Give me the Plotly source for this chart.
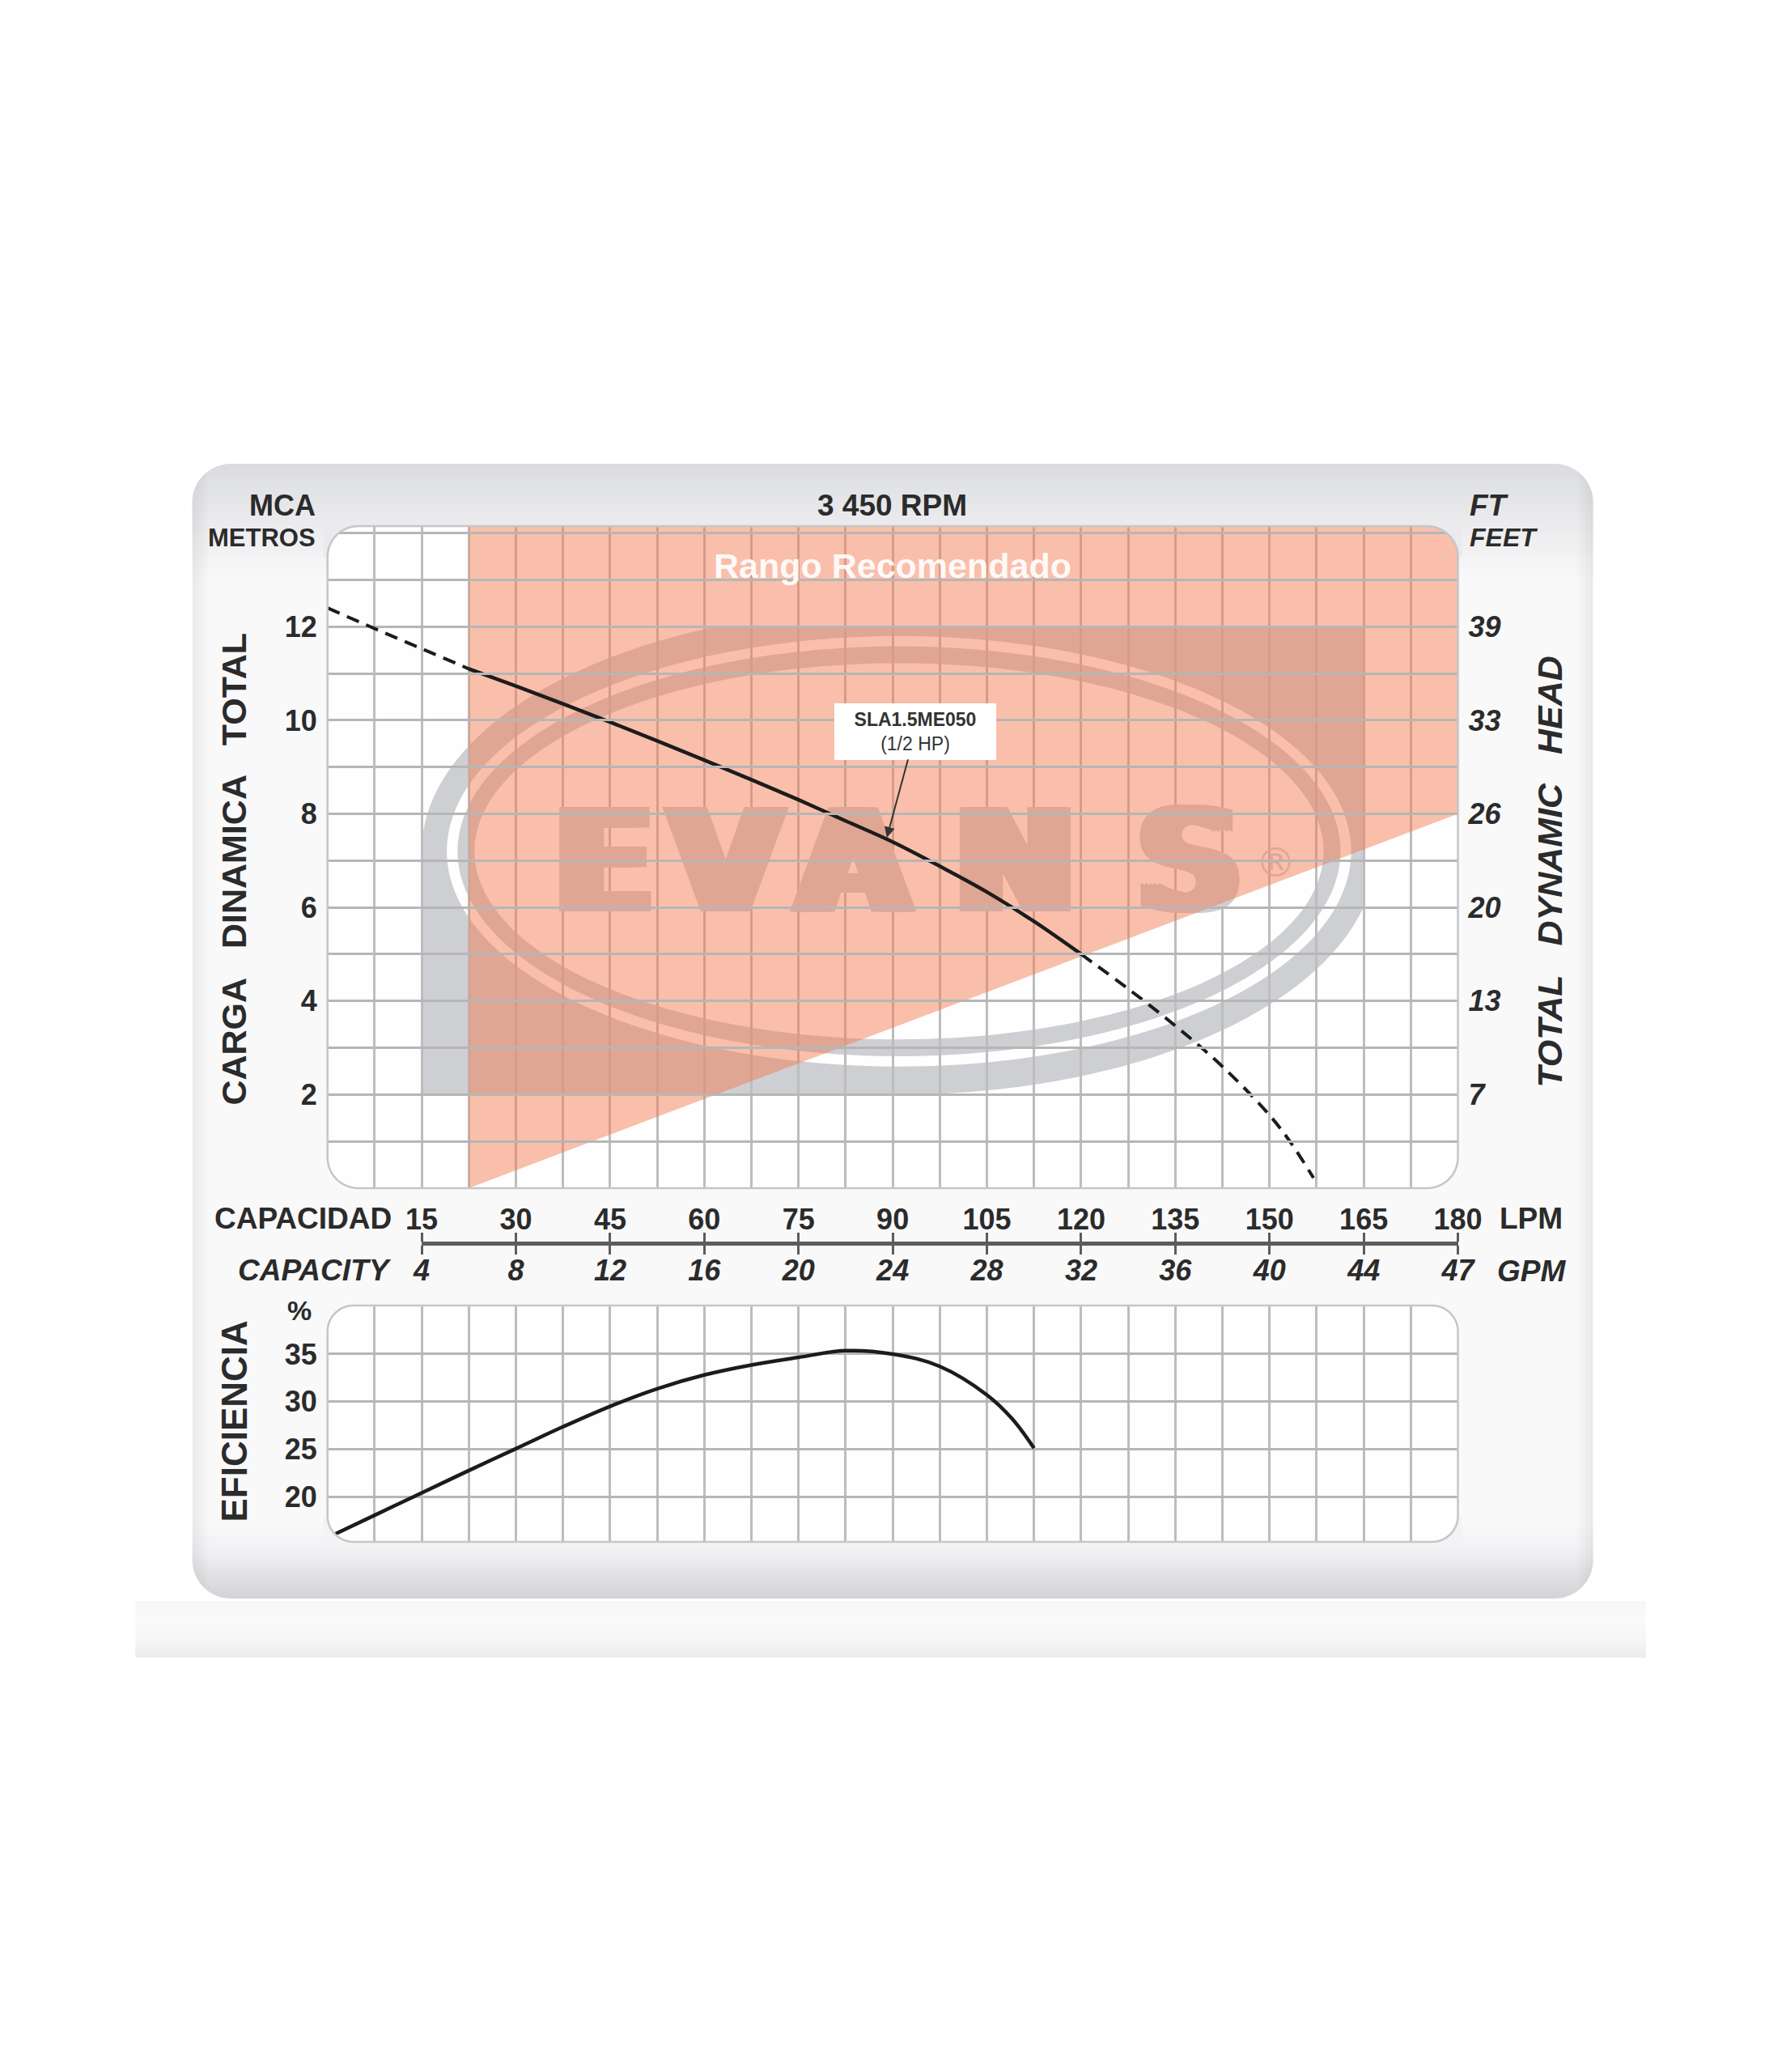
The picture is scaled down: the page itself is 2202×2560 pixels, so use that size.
import numpy as np
import plotly.graph_objects as go

# ---------------- chart data ----------------
head_lpm = [0, 7.5, 15, 22.5, 30, 37.5, 45, 52.5, 60, 67.5, 75, 82.5, 90, 97.5,
            105, 112.5, 120, 127.5, 135, 142.5, 150, 153.5, 157]
head_m = [12.4, 11.96, 11.53, 11.1, 10.73, 10.35, 9.96, 9.56, 9.15, 8.73, 8.3, 7.85,
          7.4, 6.88, 6.33, 5.7, 5.0, 4.26, 3.47, 2.6, 1.56, 0.95, 0.22]
solid_lpm_min = 22.5
solid_lpm_max = 120

eff_lpm = [1.3, 7.5, 15, 22.5, 30, 37.5, 45, 52.5, 60, 67.5, 75, 82.5, 90,
           97.5, 105, 109, 112.5]
eff_pct = [16.1, 18.05, 20.4, 22.75, 25.05, 27.35, 29.5, 31.35, 32.8, 33.85, 34.65,
           35.35, 35.0, 33.7, 30.7, 28.2, 25.1]

Y_TOP = 14.15
rec_lpm = [22.5, 180, 180, 22.5]
rec_m = [0, 8, Y_TOP, Y_TOP]

head_ticks_m = [2, 4, 6, 8, 10, 12]
head_ticks_ft = ["7", "13", "20", "26", "33", "39"]
lpm_ticks = [15, 30, 45, 60, 75, 90, 105, 120, 135, 150, 165, 180]
gpm_labels = ["4", "8", "12", "16", "20", "24", "28", "32", "36", "40", "44", "47"]
eff_ticks = [20, 25, 30, 35]

model_label = "SLA1.5ME050"
model_hp = "(1/2 HP)"
model_label_lpm = 89

logo_letters = ["E", "V", "A", "N", "S"]
logo_letter_lpm = [44, 63.4, 83.7, 109.5, 137.3]

X_RANGE = [0, 180]
Y_RANGE = [0, Y_TOP]
E_RANGE = [15.25, 40.1]

# ---------------- geometry / style ----------------
W, H = 2202, 2560
SX, OX, OY = 0.976, 28.8, 8.0      # page placement correction (measured)
PX_L, PX_R = 405, 1800
TOP_T, TOP_B = 650, 1468
BOT_T, BOT_B = 1613, 1905
AXIS_Y = 1536
FONT = "Liberation Sans, Arial, Helvetica, sans-serif"
TXT = "#2b2b2b"
GRID_V = "#bdbdbd"
GRID_H = "#b6b6b6"
LOGO_GRAY = "rgb(206,207,210)"
RED = "rgba(244,115,70,0.45)"


def fx(x):
    return ((x - OX) / SX) / W


def fy(y):
    return 1 - (y - OY) / H


def ppath(pts):
    return "M " + " L ".join(f"{fx(x):.5f},{fy(y):.5f}" for x, y in pts) + " Z"


def dsub(pts):
    return "M " + " L ".join(f"{x:.4f},{y:.4f}" for x, y in pts) + " Z"


def rr_points(L, T, R, B, r, n=14):
    pts = []
    for cx, cy, a0 in [(R - r, T + r, -90), (R - r, B - r, 0), (L + r, B - r, 90), (L + r, T + r, 180)]:
        for k in range(n + 1):
            a = np.radians(a0 + 90 * k / n)
            pts.append((cx + r * np.cos(a), cy + r * np.sin(a)))
    return pts


def rr_off(d, r):
    d = min(max(d, 0), r)
    return r - np.sqrt(max(r * r - d * d, 0))


def rr_x_at(y, L, T, R, B, r):
    d = (T + r - y) if y < T + r else ((y - (B - r)) if y > B - r else 0)
    o = rr_off(d, r)
    return L + o, R - o


def rr_y_at(x, L, T, R, B, r):
    d = (L + r - x) if x < L + r else ((x - (R - r)) if x > R - r else 0)
    o = rr_off(d, r)
    return T + o, B - o


def hband(ya, yb, box, n=6):
    L, T, R, B, r = box
    ys = np.linspace(max(ya, T), min(yb, B), n)
    left = [(rr_x_at(y, *box)[0], y) for y in ys]
    right = [(rr_x_at(y, *box)[1], y) for y in ys[::-1]]
    return ppath(left + right)


def vband(xa, xb, box, n=6):
    L, T, R, B, r = box
    xs = np.linspace(max(xa, L), min(xb, R), n)
    top = [(x, rr_y_at(x, *box)[0]) for x in xs]
    bot = [(x, rr_y_at(x, *box)[1]) for x in xs[::-1]]
    return ppath(top + bot)


panel_stops = [(573, (218, 219, 222)), (600, (225, 226, 229)), (650, (236, 236, 238)),
               (720, (249, 249, 250)), (1880, (249, 249, 250)), (1915, (242, 242, 244)),
               (1975, (210, 211, 214))]


def panel_rgb(y):
    ys = [s[0] for s in panel_stops]
    return tuple(int(round(np.interp(y, ys, [s[1][k] for s in panel_stops]))) for k in range(3))


def rgb(c):
    return f"rgb({c[0]},{c[1]},{c[2]})"


shapes = []
PANEL = (238, 573, 1967, 1975, 48)

# reflection strip under panel
refl_stops = [(1978, 246), (2000, 250), (2025, 246), (2048, 236)]
for y0 in np.arange(1978, 2048, 3):
    g = int(round(np.interp(y0 + 1.5, [s[0] for s in refl_stops], [s[1] for s in refl_stops])))
    shapes.append(dict(type="rect", xref="paper", yref="paper", x0=fx(168), x1=fx(2032),
                       y0=fy(y0), y1=fy(min(y0 + 3.8, 2048)), line=dict(width=0),
                       fillcolor=f"rgb({g},{g},{g+1})", layer="below"))

# panel base + gradient
shapes.append(dict(type="path", xref="paper", yref="paper", path=ppath(rr_points(*PANEL[:4], PANEL[4])),
                   fillcolor=rgb(panel_rgb(1000)), line=dict(width=0), layer="below"))
for y0 in list(np.arange(573, 720, 3)) + list(np.arange(1880, 1975, 3)):
    shapes.append(dict(type="path", xref="paper", yref="paper", path=hband(y0, y0 + 3.8, PANEL),
                       fillcolor=rgb(panel_rgb(y0 + 1.5)), line=dict(width=0), layer="below"))
for i in range(10):
    a = 0.045 * (1 - i / 10)
    shapes.append(dict(type="path", xref="paper", yref="paper", path=vband(238 + 2 * i, 240.8 + 2 * i, PANEL),
                       fillcolor=f"rgba(0,0,0,{a:.3f})", line=dict(width=0), layer="below"))
    shapes.append(dict(type="path", xref="paper", yref="paper", path=vband(1964.2 - 2 * i, 1967 - 2 * i, PANEL),
                       fillcolor=f"rgba(0,0,0,{a:.3f})", line=dict(width=0), layer="below"))

TOP_BOX = (PX_L, TOP_T, PX_R, TOP_B, 38)
BOT_BOX = (PX_L, BOT_T, PX_R, BOT_B, 32)
for box in (TOP_BOX, BOT_BOX):
    shapes.append(dict(type="path", xref="paper", yref="paper", path=ppath(rr_points(*box[:4], box[4])),
                       fillcolor="rgb(254,254,254)", line=dict(width=0), layer="below"))

# EVANS watermark (gray, below gridlines)
LCX, LCY = 91, 7.2


def ell(a, b, t0, t1, n=90):
    t = np.linspace(t0, t1, n)
    return list(zip(LCX + a * np.cos(t), LCY + b * np.sin(t)))


outer = [(15, LCY), (15, 2), (LCX, 2)]
outer += [(min(x, 165), y) for x, y in ell(76, 5.2, -np.pi / 2, 0)]
outer += [(165, 12), (LCX, 12)]
outer += [(x, min(y, 12)) for x, y in ell(76, 5.2, np.pi / 2, np.pi)]
cut = ell(72, 4.6, 0, 2 * np.pi, 180)
shapes.append(dict(type="path", xref="x", yref="y", path=dsub(outer) + " " + dsub(cut),
                   fillrule="evenodd", fillcolor=LOGO_GRAY, line=dict(width=0), layer="below"))
ring = dsub(ell(70.3, 4.38, 0, 2 * np.pi, 180)) + " " + dsub(ell(67.6, 4.02, 0, 2 * np.pi, 180))
shapes.append(dict(type="path", xref="x", yref="y", path=ring, fillrule="evenodd",
                   fillcolor=LOGO_GRAY, line=dict(width=0), layer="below"))


# rounded-corner masks and borders (above)
def corner_masks(box, e=5, n=12):
    L, T, R, B, r = box
    out = []
    for (ccx, ccy, a0) in [(L + r, T + r, 180), (R - r, T + r, 270), (R - r, B - r, 0), (L + r, B - r, 90)]:
        arc = [(ccx + r * np.cos(np.radians(a0 + 90 * k / n)), ccy + r * np.sin(np.radians(a0 + 90 * k / n)))
               for k in range(n + 1)]

        def ext(p):
            x, y = p
            if abs(x - L) < 0.5: x -= e
            if abs(x - R) < 0.5: x += e
            if abs(y - T) < 0.5: y -= e
            if abs(y - B) < 0.5: y += e
            return (x, y)
        cx0 = L - e if ccx < (L + R) / 2 else R + e
        cy0 = T - e if ccy < (T + B) / 2 else B + e
        pts = [ext(arc[0])] + arc + [ext(arc[-1]), (cx0, cy0)]
        out.append(dict(type="path", xref="paper", yref="paper", path=ppath(pts),
                        fillcolor=rgb(panel_rgb(cy0)), line=dict(width=0), layer="above"))
    return out


for box in (TOP_BOX, BOT_BOX):
    shapes += corner_masks(box)
    shapes.append(dict(type="path", xref="paper", yref="paper", path=ppath(rr_points(*box[:4], box[4])),
                       fillcolor="rgba(0,0,0,0)", line=dict(width=2.5, color="#c6c6c9"), layer="above"))

# ---------------- traces ----------------
fig = go.Figure()
smear = ", ".join(f"{d}px 0px 0px {LOGO_GRAY}" for d in (-11, -5.5, 5.5, 11))   # heavy, extended lettering
fig.add_trace(go.Scatter(x=logo_letter_lpm, y=[6.68] * len(logo_letters), text=logo_letters,
                         mode="text", textposition="middle center",
                         textfont=dict(family="DejaVu Sans", size=176, color=LOGO_GRAY, weight="bold",
                                       shadow=smear),
                         hoverinfo="skip", showlegend=False))
fig.add_trace(go.Scatter(x=[151], y=[6.87], text=["®"], mode="text", textposition="middle center",
                         textfont=dict(family="DejaVu Sans", size=50, color=LOGO_GRAY),
                         hoverinfo="skip", showlegend=False))
fig.add_trace(go.Scatter(x=rec_lpm, y=rec_m, fill="toself", fillcolor=RED, mode="lines",
                         line=dict(width=0, color="rgba(0,0,0,0)"), hoverinfo="skip", showlegend=False))

lpm = np.array(head_lpm)
hm = np.array(head_m)
segs = [(lpm <= solid_lpm_min, "16px,10px", 4),
        ((lpm >= solid_lpm_min) & (lpm <= solid_lpm_max), "solid", 4.5),
        (lpm >= solid_lpm_max, "16px,10px", 4)]
for mask, dash, wdt in segs:
    fig.add_trace(go.Scatter(x=lpm[mask], y=hm[mask], mode="lines",
                             line=dict(color="#1c1c1c", width=wdt, dash=dash, shape="spline", smoothing=1.0),
                             hoverinfo="skip", showlegend=False))

fig.add_trace(go.Scatter(x=eff_lpm, y=eff_pct, mode="lines", xaxis="x3", yaxis="y3",
                         line=dict(color="#1c1c1c", width=4.5, shape="spline", smoothing=1.1),
                         hoverinfo="skip", showlegend=False))

# carriers for the secondary axes
fig.add_trace(go.Scatter(x=[None] * len(head_ticks_m), y=head_ticks_m, xaxis="x", yaxis="y2",
                         mode="markers", hoverinfo="skip", showlegend=False))
fig.add_trace(go.Scatter(x=lpm_ticks, y=[None] * len(lpm_ticks), xaxis="x4", yaxis="y",
                         mode="markers", hoverinfo="skip", showlegend=False))
fig.add_trace(go.Scatter(x=lpm_ticks, y=[None] * len(lpm_ticks), xaxis="x5", yaxis="y",
                         mode="markers", hoverinfo="skip", showlegend=False))

# ---------------- axes ----------------
xdom = [fx(PX_L), fx(PX_R)]
lpm_left = PX_L + (lpm_ticks[0] - X_RANGE[0]) / (X_RANGE[1] - X_RANGE[0]) * (PX_R - PX_L)
grid_x = dict(range=X_RANGE, tick0=0, dtick=7.5, showgrid=True, gridcolor=GRID_V, gridwidth=2.5,
              showticklabels=False, ticks="", zeroline=False, showline=False, fixedrange=True)
tf = dict(family=FONT, size=36, color=TXT, weight="bold")
tfi = dict(family=FONT, size=36, color=TXT, weight="bold", style="italic")

layout = dict(
    width=W, height=H, autosize=False, margin=dict(l=0, r=0, t=0, b=0),
    paper_bgcolor="white", plot_bgcolor="rgba(0,0,0,0)", showlegend=False,
    xaxis=dict(domain=xdom, anchor="y", **grid_x),
    yaxis=dict(domain=[fy(TOP_B), fy(TOP_T)], range=Y_RANGE, anchor="x", tickmode="array",
               tickvals=head_ticks_m, ticktext=[str(v) for v in head_ticks_m],
               showgrid=True, gridcolor=GRID_H, gridwidth=3.2,
               minor=dict(tick0=0, dtick=1, showgrid=True, gridcolor=GRID_H, gridwidth=3.2),
               tickfont=tf, ticks="", ticklabelstandoff=12, zeroline=False, showline=False, fixedrange=True),
    yaxis2=dict(overlaying="y", side="right", anchor="x", range=Y_RANGE, tickmode="array",
                tickvals=head_ticks_m, ticktext=head_ticks_ft, showgrid=False, tickfont=tfi,
                ticks="", ticklabelstandoff=12, zeroline=False, showline=False, fixedrange=True),
    xaxis3=dict(domain=xdom, anchor="y3", **grid_x),
    yaxis3=dict(domain=[fy(BOT_B), fy(BOT_T)], range=E_RANGE, anchor="x3", tickmode="array",
                tickvals=eff_ticks, ticktext=[str(v) for v in eff_ticks], showgrid=True,
                gridcolor=GRID_H, gridwidth=3.2, tickfont=tf, ticks="", ticklabelstandoff=12,
                zeroline=False, showline=False, fixedrange=True),
    xaxis4=dict(domain=[fx(lpm_left), fx(PX_R)], range=[lpm_ticks[0], X_RANGE[1]], anchor="free",
                position=fy(AXIS_Y), side="top", tickmode="array", tickvals=lpm_ticks,
                ticktext=[str(v) for v in lpm_ticks], showline=True, linecolor="#5c5c5c", linewidth=5,
                ticks="outside", ticklen=11, tickwidth=3, tickcolor="#5c5c5c", showgrid=False,
                zeroline=False, tickfont=tf, ticklabelstandoff=-10, fixedrange=True),
    xaxis5=dict(domain=[fx(lpm_left), fx(PX_R)], range=[lpm_ticks[0], X_RANGE[1]], anchor="free",
                position=fy(AXIS_Y), side="bottom", tickmode="array", tickvals=lpm_ticks,
                ticktext=gpm_labels, showline=True, linecolor="#5c5c5c", linewidth=5,
                ticks="outside", ticklen=11, tickwidth=3, tickcolor="#5c5c5c", showgrid=False,
                zeroline=False, tickfont=tfi, ticklabelstandoff=-11, fixedrange=True),
    shapes=shapes,
)


def ann(text, x, y, size, xanchor="center", angle=0, color=TXT):
    return dict(text=text, x=fx(x), y=fy(y), xref="paper", yref="paper", showarrow=False,
                xanchor=xanchor, yanchor="middle", textangle=angle,
                font=dict(family=FONT, size=size, color=color))


nb = "\u00a0\u00a0\u00a0"
annotations = [
    ann("<b>MCA</b>", 392, 625, 36, "right"),
    ann("<b>METROS</b>", 392, 664, 31, "right"),
    ann("<b>3 450 RPM</b>", 1102, 625, 37),
    ann("<b><i>FT</i></b>", 1812, 625, 37, "left"),
    ann("<b><i>FEET</i></b>", 1812, 664, 32, "left"),
    ann("<b>Rango Recomendado</b>", 1102, 699, 43, color="rgba(255,255,255,0.93)"),
    ann(f"<b>CARGA{nb}DINAMICA{nb}TOTAL</b>", 289, 1074, 43, angle=-90),
    ann(f"<b><i>TOTAL{nb}DYNAMIC{nb}HEAD</i></b>", 1913, 1077, 43, angle=-90),
    ann("<b>EFICIENCIA</b>", 289, 1756, 44, angle=-90),
    ann("<b>%</b>", 370, 1619, 34),
    ann("<b>CAPACIDAD</b>", 486, 1505, 37, "right"),
    ann("<b>LPM</b>", 1849, 1505, 37, "left"),
    ann("<b><i>CAPACITY</i></b>", 486, 1569, 37, "right"),
    ann("<b><i>GPM</i></b>", 1846, 1570, 37, "left"),
]
tip_m = float(np.interp(model_label_lpm, head_lpm, head_m))
annotations.append(dict(
    x=model_label_lpm, y=tip_m, xref="x", yref="y", text=f"<b>{model_label}</b><br>{model_hp}",
    showarrow=True, ax=36, ay=-133, arrowhead=2, arrowsize=1.3, arrowwidth=2, arrowcolor="#333",
    standoff=2, bgcolor="white", bordercolor="white", borderwidth=1, borderpad=6,
    width=186, height=56, align="center", font=dict(family=FONT, size=23, color="#333")))
layout["annotations"] = annotations

fig.update_layout(**layout)
fig.write_html("out.html")
